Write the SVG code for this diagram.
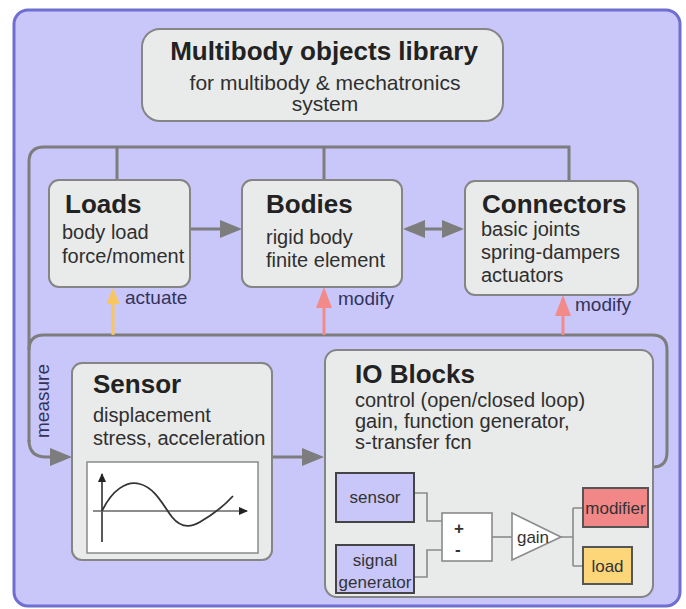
<svg xmlns="http://www.w3.org/2000/svg" width="686" height="609" viewBox="0 0 686 609">
  <style>
    .panel { fill: #c9c6fa; stroke: #6f6fd2; stroke-width: 3; }
    .node { fill: #e9eaea; stroke: #858585; stroke-width: 2; }
    .wire { fill: none; stroke: #7d7d7d; stroke-width: 3; }
    .thin { fill: none; stroke: #8a8a8a; stroke-width: 1.6; }
    .t { font-family: "Liberation Sans", Arial, sans-serif; fill: #2f2f2f; }
    .h { font-weight: bold; font-size: 26px; fill: #222; }
    .b { font-size: 20px; }
    .lbl { font-size: 19px; fill: #33335a; }
    .s { font-size: 17px; fill: #333; }
    .blk { fill: #c9c6fa; stroke: #444; stroke-width: 2; }
  </style>
  <defs>
    <marker id="ag" viewBox="0 0 22 18" refX="18" refY="9" markerWidth="22" markerHeight="18" markerUnits="userSpaceOnUse" orient="auto-start-reverse">
      <path d="M0,0 L22,9 L0,18 z" fill="#7d7d7d"/>
    </marker>
    <marker id="ay" viewBox="0 0 16 13" refX="12" refY="6.5" markerWidth="16" markerHeight="13" markerUnits="userSpaceOnUse" orient="auto">
      <path d="M0,0 L16,6.5 L0,13 z" fill="#f7c65e"/>
    </marker>
    <marker id="ar" viewBox="0 0 21 16" refX="17" refY="8" markerWidth="21" markerHeight="16" markerUnits="userSpaceOnUse" orient="auto">
      <path d="M0,0 L21,8 L0,16 z" fill="#f28a8a"/>
    </marker>
    <marker id="ak" viewBox="0 0 9 8" refX="8" refY="4" markerWidth="9" markerHeight="8" markerUnits="userSpaceOnUse" orient="auto">
      <path d="M0,0 L9,4 L0,8 z" fill="#222"/>
    </marker>
  </defs>

  <!-- background panel -->
  <rect class="panel" x="14" y="10" width="666" height="596" rx="14"/>

  <!-- connectors -->
  <g id="connectors">
    <path class="wire" d="M29,442 V162 Q29,147 44,147 H569 V180"/>
    <path class="wire" d="M117,147 V180"/>
    <path class="wire" d="M324,147 V180"/>
    <path class="wire" d="M29,440 Q29,457 46,457 H68" marker-end="url(#ag)"/>
    <path class="wire" d="M29,350 Q29,335 44,335 H652 Q667,335 667,350 V452 Q667,467 653,467"/>
    <path class="wire" d="M190,229 H238" marker-end="url(#ag)"/>
    <path class="wire" d="M407,229 H460" marker-start="url(#ag)" marker-end="url(#ag)"/>
    <path class="wire" d="M272,457 H320" marker-end="url(#ag)"/>
    <path d="M113,335 V292" stroke="#f7c65e" stroke-width="3" marker-end="url(#ay)"/>
    <path d="M324,335 V291" stroke="#f28a8a" stroke-width="3" marker-end="url(#ar)"/>
    <path d="M563,335 V299" stroke="#f28a8a" stroke-width="3" marker-end="url(#ar)"/>
    <text class="t lbl" x="125" y="304">actuate</text>
    <text class="t lbl" x="338" y="305">modify</text>
    <text class="t lbl" x="575" y="311">modify</text>
    <text class="t lbl" transform="translate(49,401) rotate(-90)" text-anchor="middle" font-size="20">measure</text>
  </g>

  <!-- library header -->
  <g id="library">
    <rect class="node" x="142" y="29" width="361" height="92" rx="18"/>
    <text class="t h" x="324" y="60" text-anchor="middle" font-size="27">Multibody objects library</text>
    <text class="t" x="325" y="90" text-anchor="middle" font-size="21">for multibody &amp; mechatronics</text>
    <text class="t" x="325" y="111" text-anchor="middle" font-size="21">system</text>
  </g>

  <g id="loads">
    <rect class="node" x="49" y="180" width="141" height="107" rx="10"/>
    <text class="t h" x="65" y="213">Loads</text>
    <text class="t b" x="62" y="239">body load</text>
    <text class="t b" x="62" y="263">force/moment</text>
  </g>

  <g id="bodies">
    <rect class="node" x="242" y="180" width="160" height="107" rx="10"/>
    <text class="t h" x="266" y="213">Bodies</text>
    <text class="t b" x="266" y="244">rigid body</text>
    <text class="t b" x="266" y="267">finite element</text>
  </g>

  <g id="connectors-node">
    <rect class="node" x="465" y="181" width="173" height="114" rx="10"/>
    <text class="t h" x="482" y="213">Connectors</text>
    <text class="t b" x="481" y="236">basic joints</text>
    <text class="t b" x="481" y="259">spring-dampers</text>
    <text class="t b" x="481" y="282">actuators</text>
  </g>

  <g id="sensor">
    <rect class="node" x="72" y="363" width="200" height="197" rx="10"/>
    <text class="t h" x="93" y="393">Sensor</text>
    <text class="t b" x="93" y="422">displacement</text>
    <text class="t b" x="93" y="445">stress, acceleration</text>
    <rect x="87" y="462" width="171" height="91" fill="#fff" stroke="#8a8a8a" stroke-width="1.5"/>
    <path d="M102,542 V474" stroke="#222" stroke-width="1.5" marker-end="url(#ak)"/>
    <path d="M93,511 H247" stroke="#666" stroke-width="1.5" marker-end="url(#ak)"/>
    <path d="M102,511 C112,490 127,480 140,484 C155,488 163,505 172,517 C180,527 190,528 200,522 C212,515 225,505 233,496" fill="none" stroke="#333" stroke-width="1.8"/>
  </g>

  <g id="io-blocks">
    <rect class="node" x="325" y="350" width="328" height="247" rx="12"/>
    <text class="t h" x="355" y="383">IO Blocks</text>
    <text class="t b" x="355" y="407">control (open/closed loop)</text>
    <text class="t b" x="355" y="428">gain, function generator,</text>
    <text class="t b" x="355" y="449">s-transfer fcn</text>

    <g id="io-wires">
      <path class="thin" d="M414,493 H427 V521 H442"/>
      <path class="thin" d="M414,577 H427 V550 H442"/>
      <path class="thin" d="M492,537 H512"/>
      <path class="thin" d="M561,537 H573 M573,508 V566 M573,508 H583 M573,566 H583"/>
    </g>
    <g id="io-sensor">
      <rect class="blk" x="336" y="473" width="78" height="49"/>
      <text class="t s" x="375" y="503" text-anchor="middle">sensor</text>
    </g>
    <g id="io-signal">
      <rect class="blk" x="336" y="545" width="78" height="48"/>
      <text class="t s" x="375" y="566" text-anchor="middle">signal</text>
      <text class="t s" x="375" y="588" text-anchor="middle">generator</text>
    </g>
    <g id="io-sum">
      <rect x="442" y="513" width="50" height="48" fill="#fff" stroke="#8a8a8a" stroke-width="1.6"/>
      <text class="t s" x="454" y="534" font-weight="bold">+</text>
      <text class="t s" x="455" y="555" font-weight="bold">-</text>
    </g>
    <g id="io-gain">
      <path d="M512,513 L561,537 L512,560 z" fill="#fff" stroke="#8a8a8a" stroke-width="1.6"/>
      <text class="t s" x="533" y="543" text-anchor="middle">gain</text>
    </g>
    <g id="io-modifier">
      <rect x="583" y="488" width="65" height="39" fill="#f28787" stroke="#555" stroke-width="2"/>
      <text class="t s" x="615.5" y="514" text-anchor="middle" fill="#5a2424">modifier</text>
    </g>
    <g id="io-load">
      <rect x="583" y="547" width="49" height="37" fill="#fdd67a" stroke="#555" stroke-width="2"/>
      <text class="t s" x="607.5" y="572" text-anchor="middle">load</text>
    </g>
  </g>
</svg>
